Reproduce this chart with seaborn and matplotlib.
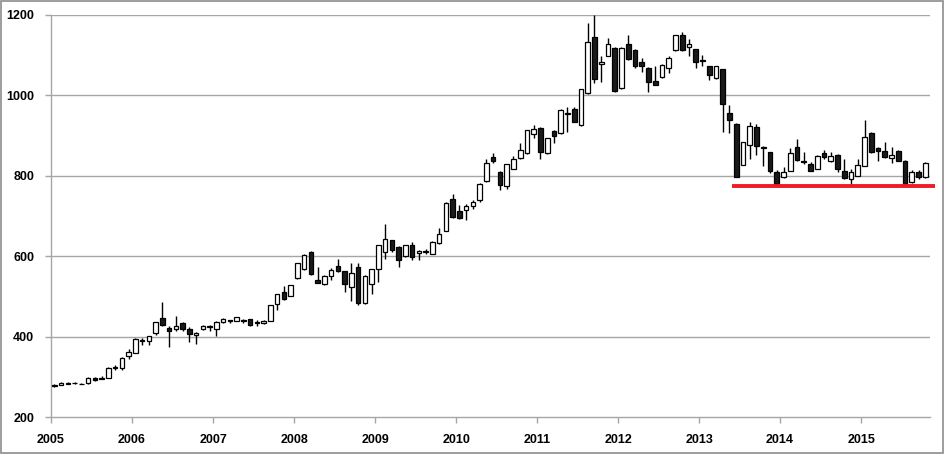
import numpy as np
import pandas as pd
import seaborn as sns
import matplotlib
matplotlib.use("Agg")
import matplotlib.pyplot as plt
from matplotlib.patches import Rectangle

# ---- data (monthly OHLC, Jan 2005 .. Oct 2015) ----
opens = [277,280,283,284,283,284,296,295,298,323,322,352,
         360,388,390,408,447,422,418,435,419,404,420,424,
         420,436,441,439,442,443,437,434,440,480,511,502,
         546,567,611,540,530,550,576,563,524,574,484,530,
         568,610,640,624,600,627,609,610,606,632,663,742,
         713,715,725,740,786,847,810,775,818,844,856,903,
         920,857,912,906,953,965,927,1006,1146,1078,1099,1119,
         1018,1129,1114,1084,1069,1036,1046,1068,1113,1150,1121,1115,
         1088,1072,1043,1065,957,930,828,877,922,872,859,810,
         796,812,871,836,829,818,857,837,852,813,791,800,
         825,906,869,862,845,862,838,784,810,797]
highs = [281,286,286,286,284,300,299,303,325,329,350,370,
         396,397,402,437,485,427,452,436,424,411,428,428,
         438,446,442,450,444,444,442,442,479,506,527,529,
         583,605,612,574,552,570,594,564,582,582,552,569,
         629,679,641,625,629,636,615,619,638,669,735,754,
         727,730,741,781,843,857,812,830,849,881,915,926,
         921,895,915,965,972,970,1017,1181,1200,1097,1142,1120,
         1120,1150,1116,1092,1070,1072,1077,1098,1151,1157,1140,1116,
         1100,1074,1074,1066,976,931,885,935,930,873,860,814,
         821,868,891,858,835,851,864,860,853,841,817,841,
         939,910,872,883,872,864,839,814,814,834]
lows = [275,279,281,282,281,283,289,294,296,318,318,345,
        358,378,380,403,426,375,415,415,387,382,417,415,
        402,433,433,438,434,427,427,431,439,466,492,500,
        543,565,552,533,528,541,560,510,489,479,482,506,
        537,593,610,574,597,590,590,605,605,631,662,696,
        693,690,718,735,785,833,765,766,816,842,853,893,
        841,855,881,904,910,934,925,1004,1030,1034,1097,1009,
        1016,1089,1067,1059,1009,1025,1044,1055,1110,1110,1097,1067,
        1073,1038,1040,910,906,796,827,843,852,824,808,777,
        795,811,838,829,811,817,843,835,810,793,777,799,
        824,856,838,845,833,837,776,782,793,794]
closes = [279,284,284,285,282,298,293,297,323,325,346,362,
          393,391,401,436,428,414,427,419,406,410,427,426,
          437,444,440,448,438,430,434,438,478,505,494,528,
          582,602,555,534,550,566,562,530,557,484,551,568,
          628,643,615,590,628,598,614,613,636,655,733,697,
          694,725,735,780,831,838,777,829,841,864,914,916,
          858,893,900,964,956,935,1015,1134,1042,1084,1129,1012,
          1117,1090,1073,1074,1034,1027,1076,1092,1150,1113,1127,1084,
          1086,1051,1072,978,939,798,883,924,874,869,811,780,
          810,856,839,834,813,849,848,849,816,794,810,828,
          896,860,862,846,852,838,780,810,798,831]
year_labels = [str(y) for y in range(2005, 2016)]
y_ticks = [200, 400, 600, 800, 1000, 1200]
support_level = 775

df = pd.DataFrame({"open": opens, "high": highs, "low": lows, "close": closes})
df["t"] = np.arange(len(df)) + 0.5
df["up"] = df["close"] >= df["open"]
df["body_lo"] = df[["open", "close"]].min(axis=1)
df["body_h"] = (df["close"] - df["open"]).abs().clip(lower=0.8)

sns.set_theme(style="white")
plt.rcParams["font.family"] = ["Liberation Sans", "DejaVu Sans"]

fig = plt.figure(figsize=(9.45, 4.58), dpi=100)
ax = fig.add_axes([51/945, 41/458, 879/945, 402/458])

grid_c = "#a6a6a6"
for yv in y_ticks[1:]:
    ax.axhline(yv, color=grid_c, lw=1.0, zorder=0)

# wicks
ax.vlines(df["t"], df["low"], df["high"], color="black", lw=1.0, zorder=2)
# bodies
up = df[df["up"]]
dn = df[~df["up"]]
ax.bar(up["t"], up["body_h"], bottom=up["body_lo"], width=0.68,
       facecolor="white", edgecolor="black", linewidth=0.9, zorder=3)
ax.bar(dn["t"], dn["body_h"], bottom=dn["body_lo"], width=0.68,
       facecolor="#1a1a1a", edgecolor="black", linewidth=0.9, zorder=3)

# support line
ax.plot([100.8, 131.0], [support_level, support_level], color="#ee1c25",
        lw=2.8, solid_capstyle="butt", zorder=4, clip_on=False)

ax.set_xlim(0, 130.2)
ax.set_ylim(200, 1200)
ax.set_xticks(np.arange(0, 121, 12))
ax.set_xticklabels(year_labels, fontsize=9, fontweight="bold", color="black")
ax.set_yticks(y_ticks)
ax.set_yticklabels([str(v) for v in y_ticks], fontsize=9, fontweight="bold", color="black")
ax.tick_params(axis="x", direction="out", length=4, width=1, color=grid_c, pad=8, bottom=True)
ax.tick_params(axis="y", direction="out", length=4, width=1, color=grid_c, pad=8, left=True)
ax.set_xlabel("")
ax.set_ylabel("")
for s in ["top", "right"]:
    ax.spines[s].set_visible(False)
for s in ["left", "bottom"]:
    ax.spines[s].set_color(grid_c)
    ax.spines[s].set_linewidth(1.0)

fig.patches.append(Rectangle((0.001, 0.012), 0.997, 0.985, transform=fig.transFigure,
                             fill=False, edgecolor="#8c8c8c", lw=1.2))

fig.savefig("out.png", dpi=100)
